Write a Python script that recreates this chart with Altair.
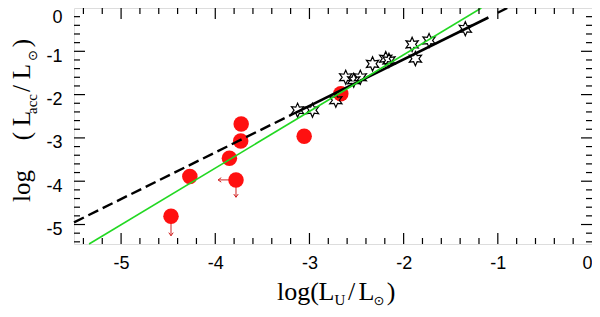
import altair as alt
import pandas as pd
import numpy as np

# ---------------- data ----------------
red_x = [-4.47, -4.27, -3.85, -3.725, -3.73, -3.78, -3.056, -2.667]
red_y = [-4.81, -3.89, -3.47, -2.68, -3.07, -3.97, -2.96, -1.98]

star_x = [-3.126, -2.968, -2.72, -2.615, -2.53, -2.46, -2.33, -2.19, -2.156,
          -1.91, -1.875, -1.73, -1.345]
star_y = [-2.36, -2.36, -2.13, -1.60, -1.67, -1.60, -1.29, -1.17, -1.21,
          -0.84, -1.17, -0.75, -0.48]

# upper-limit arrows: start (x0,y0) -> tip (x1,y1)
arr_x0 = [-4.47, -3.78, -3.78]
arr_y0 = [-4.81, -3.97, -3.97]
arr_x1 = [-4.47, -3.78, -3.97]
arr_y1 = [-5.26, -4.37, -3.97]
arr_dir = ["down", "down", "left"]

# black relation: dashed part, solid part over the data, short piece at the top
black_dash_x = [-5.5, -3.15]
black_dash_y = [-4.95, -2.42]
black_solid_x = [-3.15, -1.10]
black_solid_y = [-2.42, -0.22]
black_tip_x = [-1.00, -0.90]
black_tip_y = [-0.11, 0.0]
# green relation
green_x = [-5.34, -1.175]
green_y = [-5.45, 0.0]

x_labels = [-5, -4, -3, -2, -1, 0]
y_labels = [-5, -4, -3, -2, -1, 0]

# ---------------- layout / style ----------------
W, H = 518, 236
XD = [-5.5, 0.0]
YD = [-5.45, 0.0]
xs = alt.Scale(domain=XD, nice=False, zero=False)
ys = alt.Scale(domain=YD, nice=False, zero=False)

lab_expr = "datum.value == 0 ? '0' : '-' + abs(datum.value)"
xaxis = alt.Axis(values=x_labels, ticks=False, domain=False, grid=False, title=None,
                 labelFlush=True, labelFontSize=18, labelFont="Liberation Sans",
                 labelColor="black", labelPadding=10, labelExpr=lab_expr)
yaxis = alt.Axis(values=y_labels, ticks=False, domain=False, grid=False, title=None,
                 labelFlush=False, labelFontSize=18, labelFont="Liberation Sans",
                 labelColor="black", labelPadding=12, labelExpr=lab_expr,
                 labelBaseline={"condition": {"test": "datum.value == 0", "value": "top"},
                                "value": "middle"},
                 labelOffset={"condition": {"test": "datum.value == 0", "value": 0},
                              "value": 5})

X = lambda f: alt.X(f, type="quantitative", scale=xs, axis=xaxis)
Y = lambda f: alt.Y(f, type="quantitative", scale=ys, axis=yaxis)

red_df = pd.DataFrame({"x": red_x, "y": red_y})
star_df = pd.DataFrame({"x": star_x, "y": star_y})
arr_df = pd.DataFrame({"x": arr_x0, "y": arr_y0, "x2": arr_x1, "y2": arr_y1, "d": arr_dir})

# star symbol path (6-pointed)
pts = []
for k in range(12):
    r = 1.0 if k % 2 == 0 else 0.5
    a = np.deg2rad(-90 + 30 * k)
    pts.append(f"{r*np.cos(a):.3f},{r*np.sin(a):.3f}")
star_path = "M" + " L".join(pts) + " Z"

RED = "#ff1010"
ARED = "#d02020"

arrows = alt.Chart(arr_df).mark_rule(color=ARED, strokeWidth=1).encode(
    x=X("x"), y=Y("y"), x2="x2", y2="y2")
heads_down = alt.Chart(arr_df[arr_df.d == "down"]).mark_point(
    shape="M-0.7,-1 L0,0 L0.7,-1", size=40, color=ARED, strokeWidth=1, filled=False, opacity=1
).encode(x=X("x2"), y=Y("y2"))
heads_left = alt.Chart(arr_df[arr_df.d == "left"]).mark_point(
    shape="M1,-0.7 L0,0 L1,0.7", size=40, color=ARED, strokeWidth=1, filled=False, opacity=1
).encode(x=X("x2"), y=Y("y2"))

circles = alt.Chart(red_df).mark_circle(size=240, color=RED, opacity=1).encode(x=X("x"), y=Y("y"))
stars = alt.Chart(star_df).mark_point(shape=star_path, size=200, color="black",
                                      strokeWidth=1.2, filled=False, opacity=1
                                      ).encode(x=X("x"), y=Y("y"))
green = alt.Chart(pd.DataFrame({"x": green_x, "y": green_y})).mark_line(
    color="#22d822", strokeWidth=1.6).encode(x=X("x"), y=Y("y"))
black_d = alt.Chart(pd.DataFrame({"x": black_dash_x, "y": black_dash_y})).mark_line(
    color="black", strokeWidth=2.4, strokeDash=[11, 5]).encode(x=X("x"), y=Y("y"))
black_s = alt.Chart(pd.DataFrame({"x": black_solid_x, "y": black_solid_y})).mark_line(
    color="black", strokeWidth=2.6).encode(x=X("x"), y=Y("y"))
black_t = alt.Chart(pd.DataFrame({"x": black_tip_x, "y": black_tip_y})).mark_line(
    color="black", strokeWidth=2.4).encode(x=X("x"), y=Y("y"))

# inward ticks on all four sides
minor = [round(v, 1) for v in np.arange(-5.4, 0.0, 0.2) if abs(v - round(v)) > 1e-6]
major = [-5, -4, -3, -2, -1]
xt_min = pd.DataFrame({"v": [v for v in minor if v >= XD[0]]})
xt_maj = pd.DataFrame({"v": major})
yt_min = pd.DataFrame({"v": [v for v in minor if v >= YD[0]]})
yt_maj = pd.DataFrame({"v": major})

def xticks(df, L):
    b = alt.Chart(df).mark_rule(color="black", strokeWidth=1.2).encode(
        x=X("v"), y=alt.value(H), y2=alt.value(H - L))
    t = alt.Chart(df).mark_rule(color="black", strokeWidth=1.2).encode(
        x=X("v"), y=alt.value(0), y2=alt.value(L))
    return [b, t]

def yticks(df, L):
    l = alt.Chart(df).mark_rule(color="black", strokeWidth=1.2).encode(
        y=Y("v"), x=alt.value(0), x2=alt.value(L))
    r = alt.Chart(df).mark_rule(color="black", strokeWidth=1.2).encode(
        y=Y("v"), x=alt.value(W), x2=alt.value(W - L))
    return [l, r]

ticks = xticks(xt_min, 6) + xticks(xt_maj, 11) + yticks(yt_min, 6) + yticks(yt_maj, 11)

# axis titles with subscripts (pixel positions relative to plot area)
SERIF = "Liberation Serif"
def txt(t, x, y, size, angle=0, font=SERIF):
    kw = dict(align="center", baseline="alphabetic", fontSize=size, font=font, color="black")
    if angle:
        kw["angle"] = angle
    return alt.Chart(pd.DataFrame({"t": [t]})).mark_text(**kw).encode(
        text="t:N", x=alt.value(x), y=alt.value(y))

FS = 26
xb, xsb = 292, 297
xt = [
    txt("log(", 224, xb, FS),
    txt("L", 252.5, xb, FS),
    txt("U", 266, xsb, 15),
    txt("/", 277.5, xb, FS),
    txt("L", 292.5, xb, FS),
    txt("⊙", 305, xsb, 13, font="DejaVu Sans"),
    txt(")", 317, xb, FS),
]
YFS = 25
yx, ysub = -44, -37
yt = [
    txt("log", yx, 178, YFS, 270),
    txt("(", yx, 128, YFS, 270),
    txt("L", yx, 110.5, YFS, 270),
    txt("acc", ysub, 96, 15, 270),
    txt("/", yx, 80.5, YFS, 270),
    txt("L", yx, 63.5, YFS, 270),
    txt("⊙", ysub, 47.5, 13, 270, font="DejaVu Sans"),
    txt(")", yx, 35, YFS, 270),
]

chart = alt.layer(
    arrows, heads_down, heads_left, circles, stars, black_d, black_s, black_t, green,
    *ticks, *xt, *yt
).properties(
    width=W, height=H,
    autosize=alt.AutoSizeParams(type="none"),
    padding={"left": 66, "top": 0, "right": 0, "bottom": 65},
).configure_view(stroke="black", strokeWidth=1.6).configure(background="white")

chart.save("out.html", embed_options={"renderer": "svg", "actions": False})
